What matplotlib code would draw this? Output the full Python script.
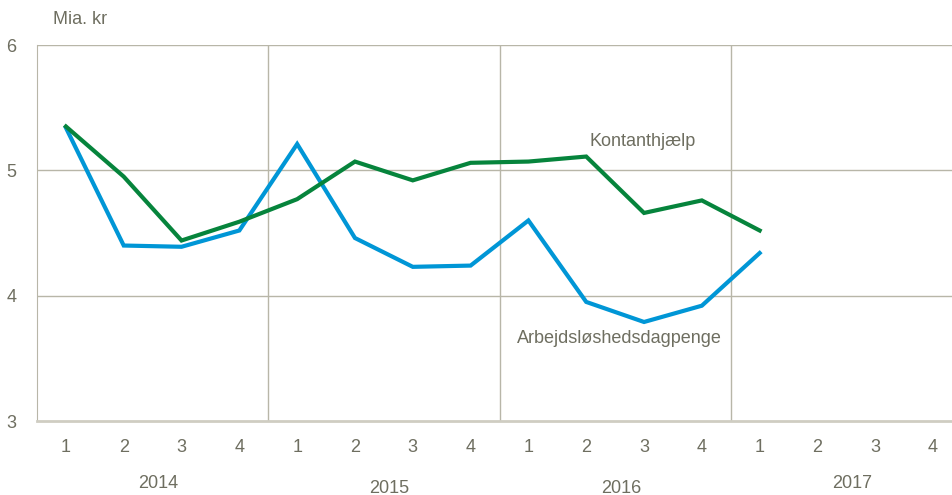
import matplotlib.pyplot as plt

plt.rcParams['font.family'] = ['Liberation Sans Narrow', 'Liberation Sans', 'DejaVu Sans']

years = ['2014', '2015', '2016', '2017']
quarters = ['1', '2', '3', '4'] * 4
kontant = [5.35, 4.95, 4.44, 4.59, 4.77, 5.07, 4.92, 5.06, 5.07, 5.11, 4.66, 4.76, 4.52]
dagpenge = [5.34, 4.40, 4.39, 4.52, 5.21, 4.46, 4.23, 4.24, 4.60, 3.95, 3.79, 3.92, 4.34]

txt = '#6e6e60'
grid = '#b8b6a8'

fig = plt.figure(figsize=(9.52, 4.95), dpi=100)
ax = fig.add_axes([37 / 952, 74 / 495, 925 / 952, 376 / 495])

x = list(range(len(kontant)))
ax.plot(x, dagpenge, color='#0096d6', lw=3, solid_joinstyle='miter')
ax.plot(x, kontant, color='#06843c', lw=3, solid_joinstyle='miter')

ax.set_xlim(-0.5, 15.5)
ax.set_ylim(3, 6)
for v in [4, 5, 6]:
    ax.axhline(v, color=grid, lw=1, zorder=0)
for v in [3.5, 7.5, 11.5]:
    ax.axvline(v, color=grid, lw=1, zorder=0)

for s in ['top', 'right']:
    ax.spines[s].set_visible(False)
ax.spines['left'].set_color(grid)
ax.spines['bottom'].set_color('#cfcdc2')
ax.spines['bottom'].set_linewidth(2)

ax.set_xticks(range(16))
ax.set_xticklabels(quarters)
ax.set_yticks([3, 4, 5, 6])
ax.tick_params(length=0, labelsize=13, colors=txt)
ax.tick_params(axis='x', pad=13)
ax.tick_params(axis='y', pad=15)

# year labels sit staggered under the quarters
year_y = [2.505, 2.465, 2.465, 2.505]
for i, (yr, yy) in enumerate(zip(years, year_y)):
    ax.text(4 * i + 1.6, yy, yr, ha='center', va='center', fontsize=13, color=txt,
            clip_on=False)

fig.text(53 / 952, 1 - 20 / 495, 'Mia. kr', ha='left', va='center', fontsize=13, color=txt)
ax.text(9.97, 5.23, 'Kontanthjælp', ha='center', va='center', fontsize=13, color=txt)
ax.text(9.58, 3.66, 'Arbejdsløshedsdagpenge', ha='center', va='center', fontsize=13, color=txt)

fig.savefig('out.png', dpi=100)
